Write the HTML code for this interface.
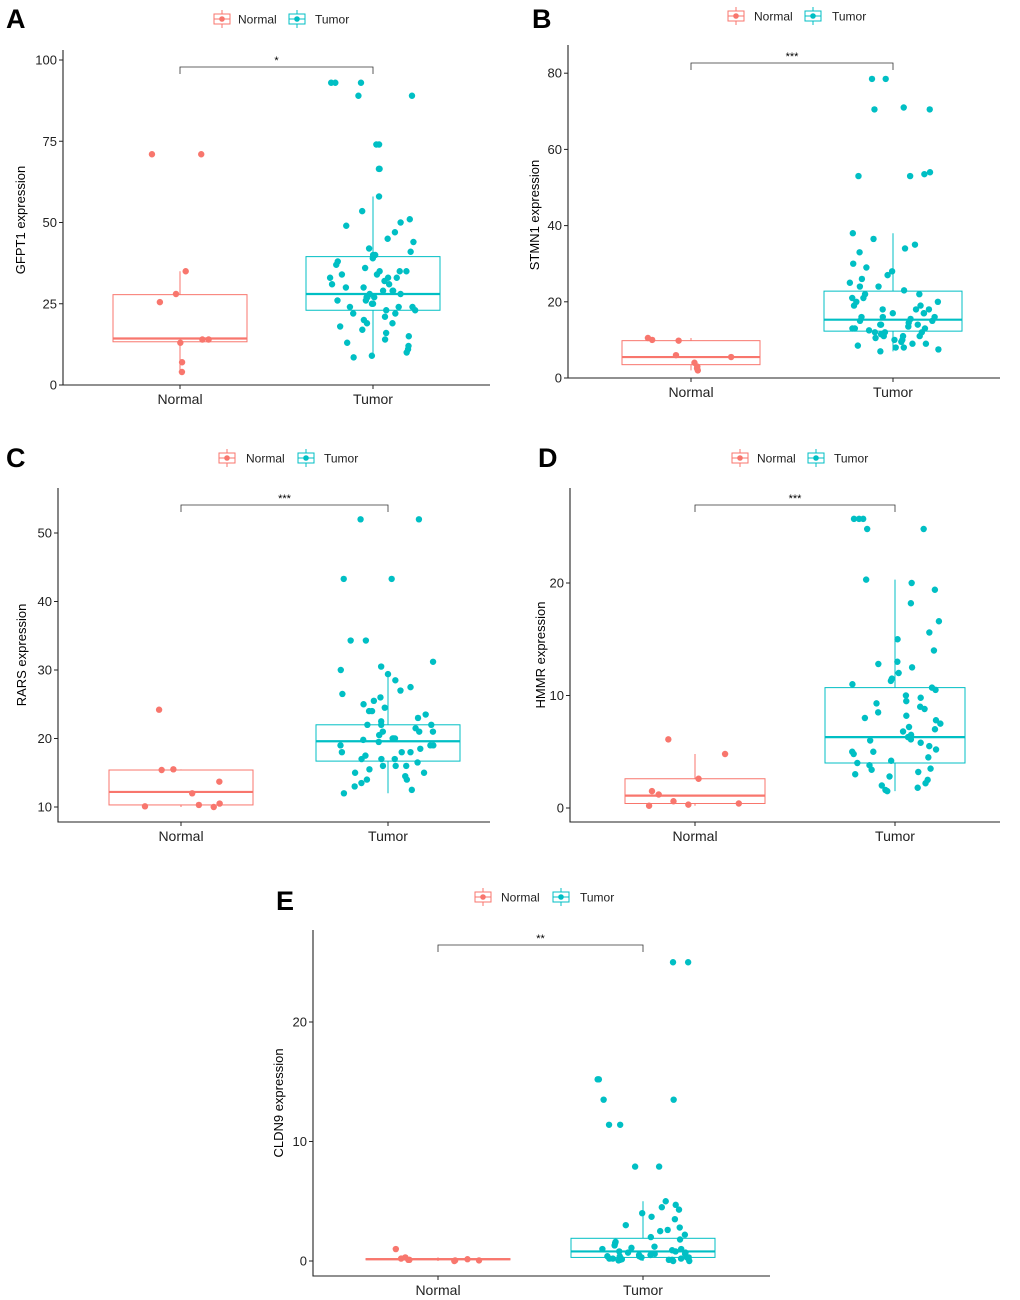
<!DOCTYPE html>
<html><head><meta charset="utf-8"><style>
body{margin:0;background:#fff}
svg{display:block;font-family:"Liberation Sans",Arial,sans-serif}
</style></head><body>
<svg id="s" width="1020" height="1300" viewBox="0 0 1020 1300"></svg>
<script>
// ---- data ----
const groups = ["Normal","Tumor"];
const genes = ["GFPT1","STMN1","RARS","HMMR","CLDN9"];
const ticksA=[0,25,50,75,100], ticksB=[0,20,40,60,80], ticksC=[10,20,30,40,50], ticksD=[0,10,20], ticksE=[0,10,20];
const stars = ["*","***","***","***","**"];
const normA=[71,71,35,28,25.5,14,14,13,7,4];
const tumA=[93,93,93,89,89,74,74,66.5,66.5,58,53.5,51,50,49,47,45,44,42,41,40,40,39,38,37,36,35,35,34,34,33,33,32,31,30,30,29,29,28,28,27,27,26,26,25,25,24,24,23,23,22,21,20,19,18,17,16,15,14,13,12,11,10,9,8.5,35,31,27,22,19,24,29,33];
const normB=[10.5,10,9.8,6,5.5,4,3,2.5,2];
const tumB=[78.5,78.5,70.5,70.5,71,54,53,53,53.5,38,36.5,35,34,33,30,29,28,27,26,25,24,23,22,22,21,20,20,19,19,18,18,17,17,16,16,15.5,15,15,14.5,14,14,13.5,13,13,12.5,12,12,11.5,11,11,10.5,10,10,9.5,9,9,8.5,8,8,7.5,7,21,18,16,13,11,24,17,14,12];
const normC=[24.2,15.5,15.4,13.7,12,10.5,10.3,10.1,10];
const tumC=[52,52,43.3,43.3,34.3,34.3,31.2,30.5,30,29.4,28.5,27.5,27,26.5,26,25.5,25,24.5,24,23.5,23,22.5,22,22,21.5,21,21,20.5,20,20,19.8,19.5,19,19,18.5,18,18,17.5,17,17,16.5,16,16,15.5,15,15,14.5,14,14,13.5,13,12.5,12,24,22,20,18,16,21,19,17];
const normD=[6.1,4.8,2.6,1.5,1.2,0.6,0.4,0.3,0.2];
const tumD=[25.7,25.7,25.7,24.8,24.8,20.3,20,19.4,18.2,16.6,15.6,15,14,13,12.8,12.5,12,11.5,11,10.7,10.5,10,9.8,9.5,9,8.8,8.5,8,7.8,7.5,7.2,7,6.8,6.5,6.3,6,5.8,5.5,5.2,5,4.8,4.5,4.2,4,3.8,3.5,3.2,3,2.8,2.5,2.2,2,1.8,1.5,1.6,11.3,9.3,8.2,6.1,5,3.4];
const normE=[1.0,0.3,0.2,0.15,0.1,0.1,0.05,0.05,0];
const tumE=[25,25,15.2,15.2,13.5,13.5,11.4,11.4,7.9,7.9,5,4.7,4.5,4.3,4,3.5,3,2.8,2.5,2.2,2,1.8,1.5,1.3,1.2,1,1,0.9,0.8,0.8,0.7,0.6,0.5,0.5,0.4,0.4,0.3,0.3,0.2,0.2,0.15,0.1,0.1,0.05,0,0,1.6,1.1,0.7,0.3,0.2,0.1,2.6,3.7,0.6,0.4];
// box stats [whiskerLo, q1, median, q3, whiskerHi]
const boxNA=[4,13.3,14.3,27.8,35], boxTA=[8.5,23,28,39.5,58];
const boxNB=[2,3.5,5.5,9.8,10.5], boxTB=[7,12.3,15.3,22.8,38];
const boxNC=[10,10.3,12.2,15.4,15.5], boxTC=[12,16.7,19.6,22,29.3];
const boxND=[0.2,0.4,1.1,2.6,4.8], boxTD=[1.5,4,6.3,10.7,20.3];
const boxNE=[0,0.1,0.15,0.2,0.3], boxTE=[0,0.3,0.8,1.9,5];

const NS="http://www.w3.org/2000/svg", svg=document.getElementById("s");
const COL=["#F8766D","#00BFC4"];
function el(t,a,p){const e=document.createElementNS(NS,t);for(const k in a)e.setAttribute(k,a[k]);(p||svg).appendChild(e);return e;}
function hash(i,k){let x=Math.sin(i*12.9898+k*78.233)*43758.5453;return x-Math.floor(x);}

function panel(o){
  const g=el("g",{});
  
  
  const y=v=>o.y0-(v-o.v0)*o.ppu;
  const xs=[o.xN,o.xT];
  const ax=el("path",{d:`M${o.ax},${o.top}V${o.y0b}H${o.right}`,stroke:"#222","stroke-width":1.1,fill:"none"},g);
  
  
  o.ticks.forEach(t=>{
    el("line",{x1:o.ax-4,x2:o.ax,y1:y(t),y2:y(t),stroke:"#222"},g);
    const tx=el("text",{x:o.ax-6,y:y(t)+4.5,"text-anchor":"end","font-size":13,fill:"#222"},g);
    tx.textContent=t;
    
    
  });
  groups.forEach((gr,i)=>{
    el("line",{x1:xs[i],x2:xs[i],y1:o.y0b,y2:o.y0b+4,stroke:"#222"},g);
    const tx=el("text",{x:xs[i],y:o.y0b+19,"text-anchor":"middle","font-size":14,fill:"#222"},g);
    tx.textContent=gr;
    
    
  });
  const yl=el("text",{x:0,y:0,transform:`translate(${o.ylx},${o.yly}) rotate(-90)`,"text-anchor":"middle","font-size":13,fill:"#000"},g);
  yl.textContent=o.gene+" expression";
  
  
  [o.bN,o.bT].forEach((b,i)=>{
    const c=COL[i],hw=o.hw,x=xs[i];
    const bx=el("g",{},g);
    
    
    el("line",{x1:x,x2:x,y1:y(b[0]),y2:y(b[1]),stroke:c},bx);
    el("line",{x1:x,x2:x,y1:y(b[3]),y2:y(b[4]),stroke:c},bx);
    el("rect",{x:x-hw,y:y(b[3]),width:2*hw,height:Math.max(1,y(b[1])-y(b[3])),fill:"none",stroke:c},bx);
    el("line",{x1:x-hw,x2:x+hw,y1:y(b[2]),y2:y(b[2]),stroke:c,"stroke-width":2.2},bx);
  });
  [o.pN,o.pT].forEach((arr,i)=>{
    arr.forEach((v,j)=>{
      const jx=(hash(j,i+o.seed)-0.5)*2*o.hw*0.66;
      const p=el("circle",{cx:xs[i]+jx,cy:y(v),r:3.2,fill:COL[i]},g);
      
      
    });
  });
  const br=el("path",{d:`M${o.xN},${o.bry+7}V${o.bry}H${o.xT}V${o.bry+7}`,stroke:"#333",fill:"none","stroke-width":0.8},g);
  
  
  const st=el("text",{x:(o.xN+o.xT)/2,y:o.bry-3,"text-anchor":"middle","font-size":11,fill:"#000"},g);
  st.textContent=o.star;
  
  
  [[o.lg[0],o.lg[1],0],[o.lg[2],o.lg[3],1]].forEach(([ix,tx,i])=>{
    const lg=el("g",{},g);
    
    
    el("line",{x1:ix,x2:ix,y1:o.ly-9,y2:o.ly+9,stroke:COL[i]},lg);
    el("rect",{x:ix-8,y:o.ly-5,width:16,height:10,fill:"#fff",stroke:COL[i]},lg);
    el("line",{x1:ix-8,x2:ix+8,y1:o.ly,y2:o.ly,stroke:COL[i]},lg);
    el("circle",{cx:ix,cy:o.ly,r:2.8,fill:COL[i]},lg);
    const t=el("text",{x:tx,y:o.ly+4.5,"font-size":12,fill:"#222"},lg);
    t.textContent=groups[i];
  });
  const L=el("text",{x:o.lx,y:o.lyy,"font-size":27,"font-weight":"bold",fill:"#000"},g);
  L.textContent=o.letter;
  
  
}
panel({letter:"A",gene:genes[0],ticks:ticksA,star:stars[0],pN:normA,pT:tumA,bN:boxNA,bT:boxTA,seed:1,
  ax:63,top:50,y0:385,y0b:385,v0:0,ppu:3.25,right:490,xN:180,xT:373,hw:67,bry:67,ylx:25,yly:220,lg:[222,238,297,315],ly:19,lx:6,lyy:28});
panel({letter:"B",gene:genes[1],ticks:ticksB,star:stars[1],pN:normB,pT:tumB,bN:boxNB,bT:boxTB,seed:2,
  ax:568,top:45,y0:378,y0b:378,v0:0,ppu:3.81,right:1000,xN:691,xT:893,hw:69,bry:63,ylx:539,yly:215,lg:[736,754,813,832],ly:16,lx:532,lyy:28});
panel({letter:"C",gene:genes[2],ticks:ticksC,star:stars[2],pN:normC,pT:tumC,bN:boxNC,bT:boxTC,seed:3,
  ax:58,top:488,y0:807,y0b:822,v0:10,ppu:6.85,right:490,xN:181,xT:388,hw:72,bry:505,ylx:26,yly:655,lg:[227,246,306,324],ly:458,lx:6,lyy:467});
panel({letter:"D",gene:genes[3],ticks:ticksD,star:stars[3],pN:normD,pT:tumD,bN:boxND,bT:boxTD,seed:4,
  ax:570,top:488,y0:808,y0b:822,v0:0,ppu:11.25,right:1000,xN:695,xT:895,hw:70,bry:505,ylx:545,yly:655,lg:[740,757,816,834],ly:458,lx:538,lyy:467});
panel({letter:"E",gene:genes[4],ticks:ticksE,star:stars[4],pN:normE,pT:tumE,bN:boxNE,bT:boxTE,seed:5,
  ax:313,top:930,y0:1261,y0b:1276,v0:0,ppu:11.95,right:770,xN:438,xT:643,hw:72,bry:945,ylx:283,yly:1103,lg:[483,501,561,580],ly:897,lx:276,lyy:910});
</script>
</body></html>
